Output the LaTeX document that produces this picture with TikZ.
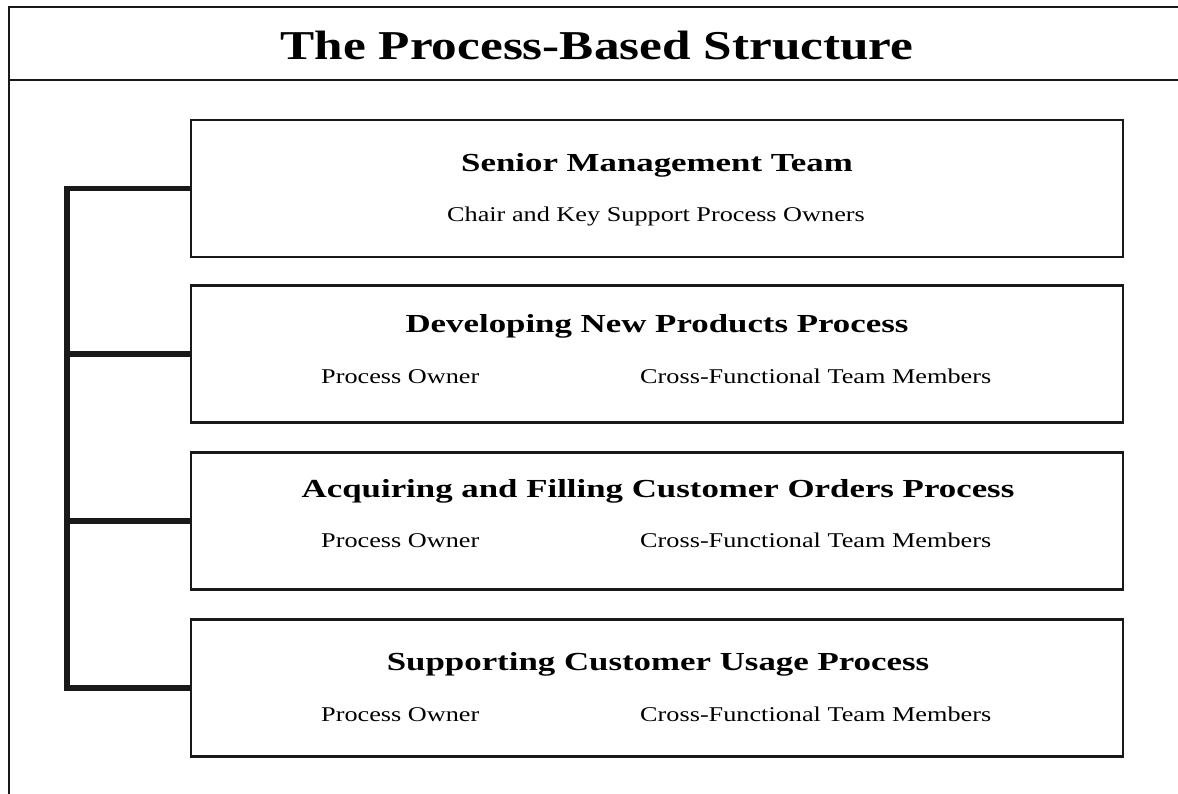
\documentclass[tikz,border=0pt]{standalone}
\usepackage{fontspec}
\setmainfont{Liberation Serif}
\usepackage{graphicx}
\newcommand{\hstr}[1]{\scalebox{1.25}[1]{#1}}
\newcommand{\hhstr}[1]{\scalebox{1.34}[1]{#1}}
\begin{document}
\begin{tikzpicture}[x=1pt,y=-1pt,
  frameline/.style={line width=2pt,black!90},
  procbox/.style={draw,line width=2.6pt,black!90,minimum width=932pt,minimum height=137pt,inner sep=0pt},
  conn/.style={line width=5.5pt,black!90,line join=miter},
  titletxt/.style={anchor=base,inner sep=0pt,font=\fontsize{41}{49}\selectfont\bfseries},
  headtxt/.style={anchor=base,inner sep=0pt,font=\fontsize{26}{31}\selectfont\bfseries},
  subtxt/.style={anchor=base,inner sep=0pt,font=\fontsize{21}{25}\selectfont},
  subleft/.style={subtxt,anchor=base west}]
\useasboundingbox (0,0) rectangle (1178,794);
% outer frame
\coordinate (ftl) at (9,7);
\coordinate (ftr) at (1178,7);
\coordinate (fml) at (9,80);
\coordinate (fmr) at (1178,80);
\coordinate (fbl) at (9,794);
\draw[frameline] (ftr) -- (ftl) -- (fbl);
\draw[frameline] (fml) -- (fmr);
\node[titletxt] (title) at (597,60) {\hstr{The Process-Based Structure}};
% boxes
\node[procbox] (b1) at (657,188.5) {};
\node[procbox] (b2) at (657,354) {};
\node[procbox] (b3) at (657,521) {};
\node[procbox] (b4) at (657,688) {};
% texts
\node[headtxt] (h1) at (657,172) {\hhstr{Senior Management Team}};
\node[subtxt] (s1) at (656,222) {\hstr{Chair and Key Support Process Owners}};
\node[headtxt] (h2) at (657,332) {\hhstr{Developing New Products Process}};
\node[subleft] (p2) at (321,383) {\hstr{Process Owner}};
\node[subleft] (c2) at (640,383) {\hstr{Cross-Functional Team Members}};
\node[headtxt] (h3) at (658,497) {\hhstr{Acquiring and Filling Customer Orders Process}};
\node[subleft] (p3) at (321,547) {\hstr{Process Owner}};
\node[subleft] (c3) at (640,547) {\hstr{Cross-Functional Team Members}};
\node[headtxt] (h4) at (658,670) {\hhstr{Supporting Customer Usage Process}};
\node[subleft] (p4) at (321,721) {\hstr{Process Owner}};
\node[subleft] (c4) at (640,721) {\hstr{Cross-Functional Team Members}};
% connector
\coordinate (spine) at (67,0);
\draw[conn] (b1.west) -- (b1.west -| spine) -- (b4.west -| spine) -- (b4.west);
\draw[conn] (b2.west) -- (b2.west -| spine);
\draw[conn] (b3.west) -- (b3.west -| spine);
\end{tikzpicture}
\end{document}
